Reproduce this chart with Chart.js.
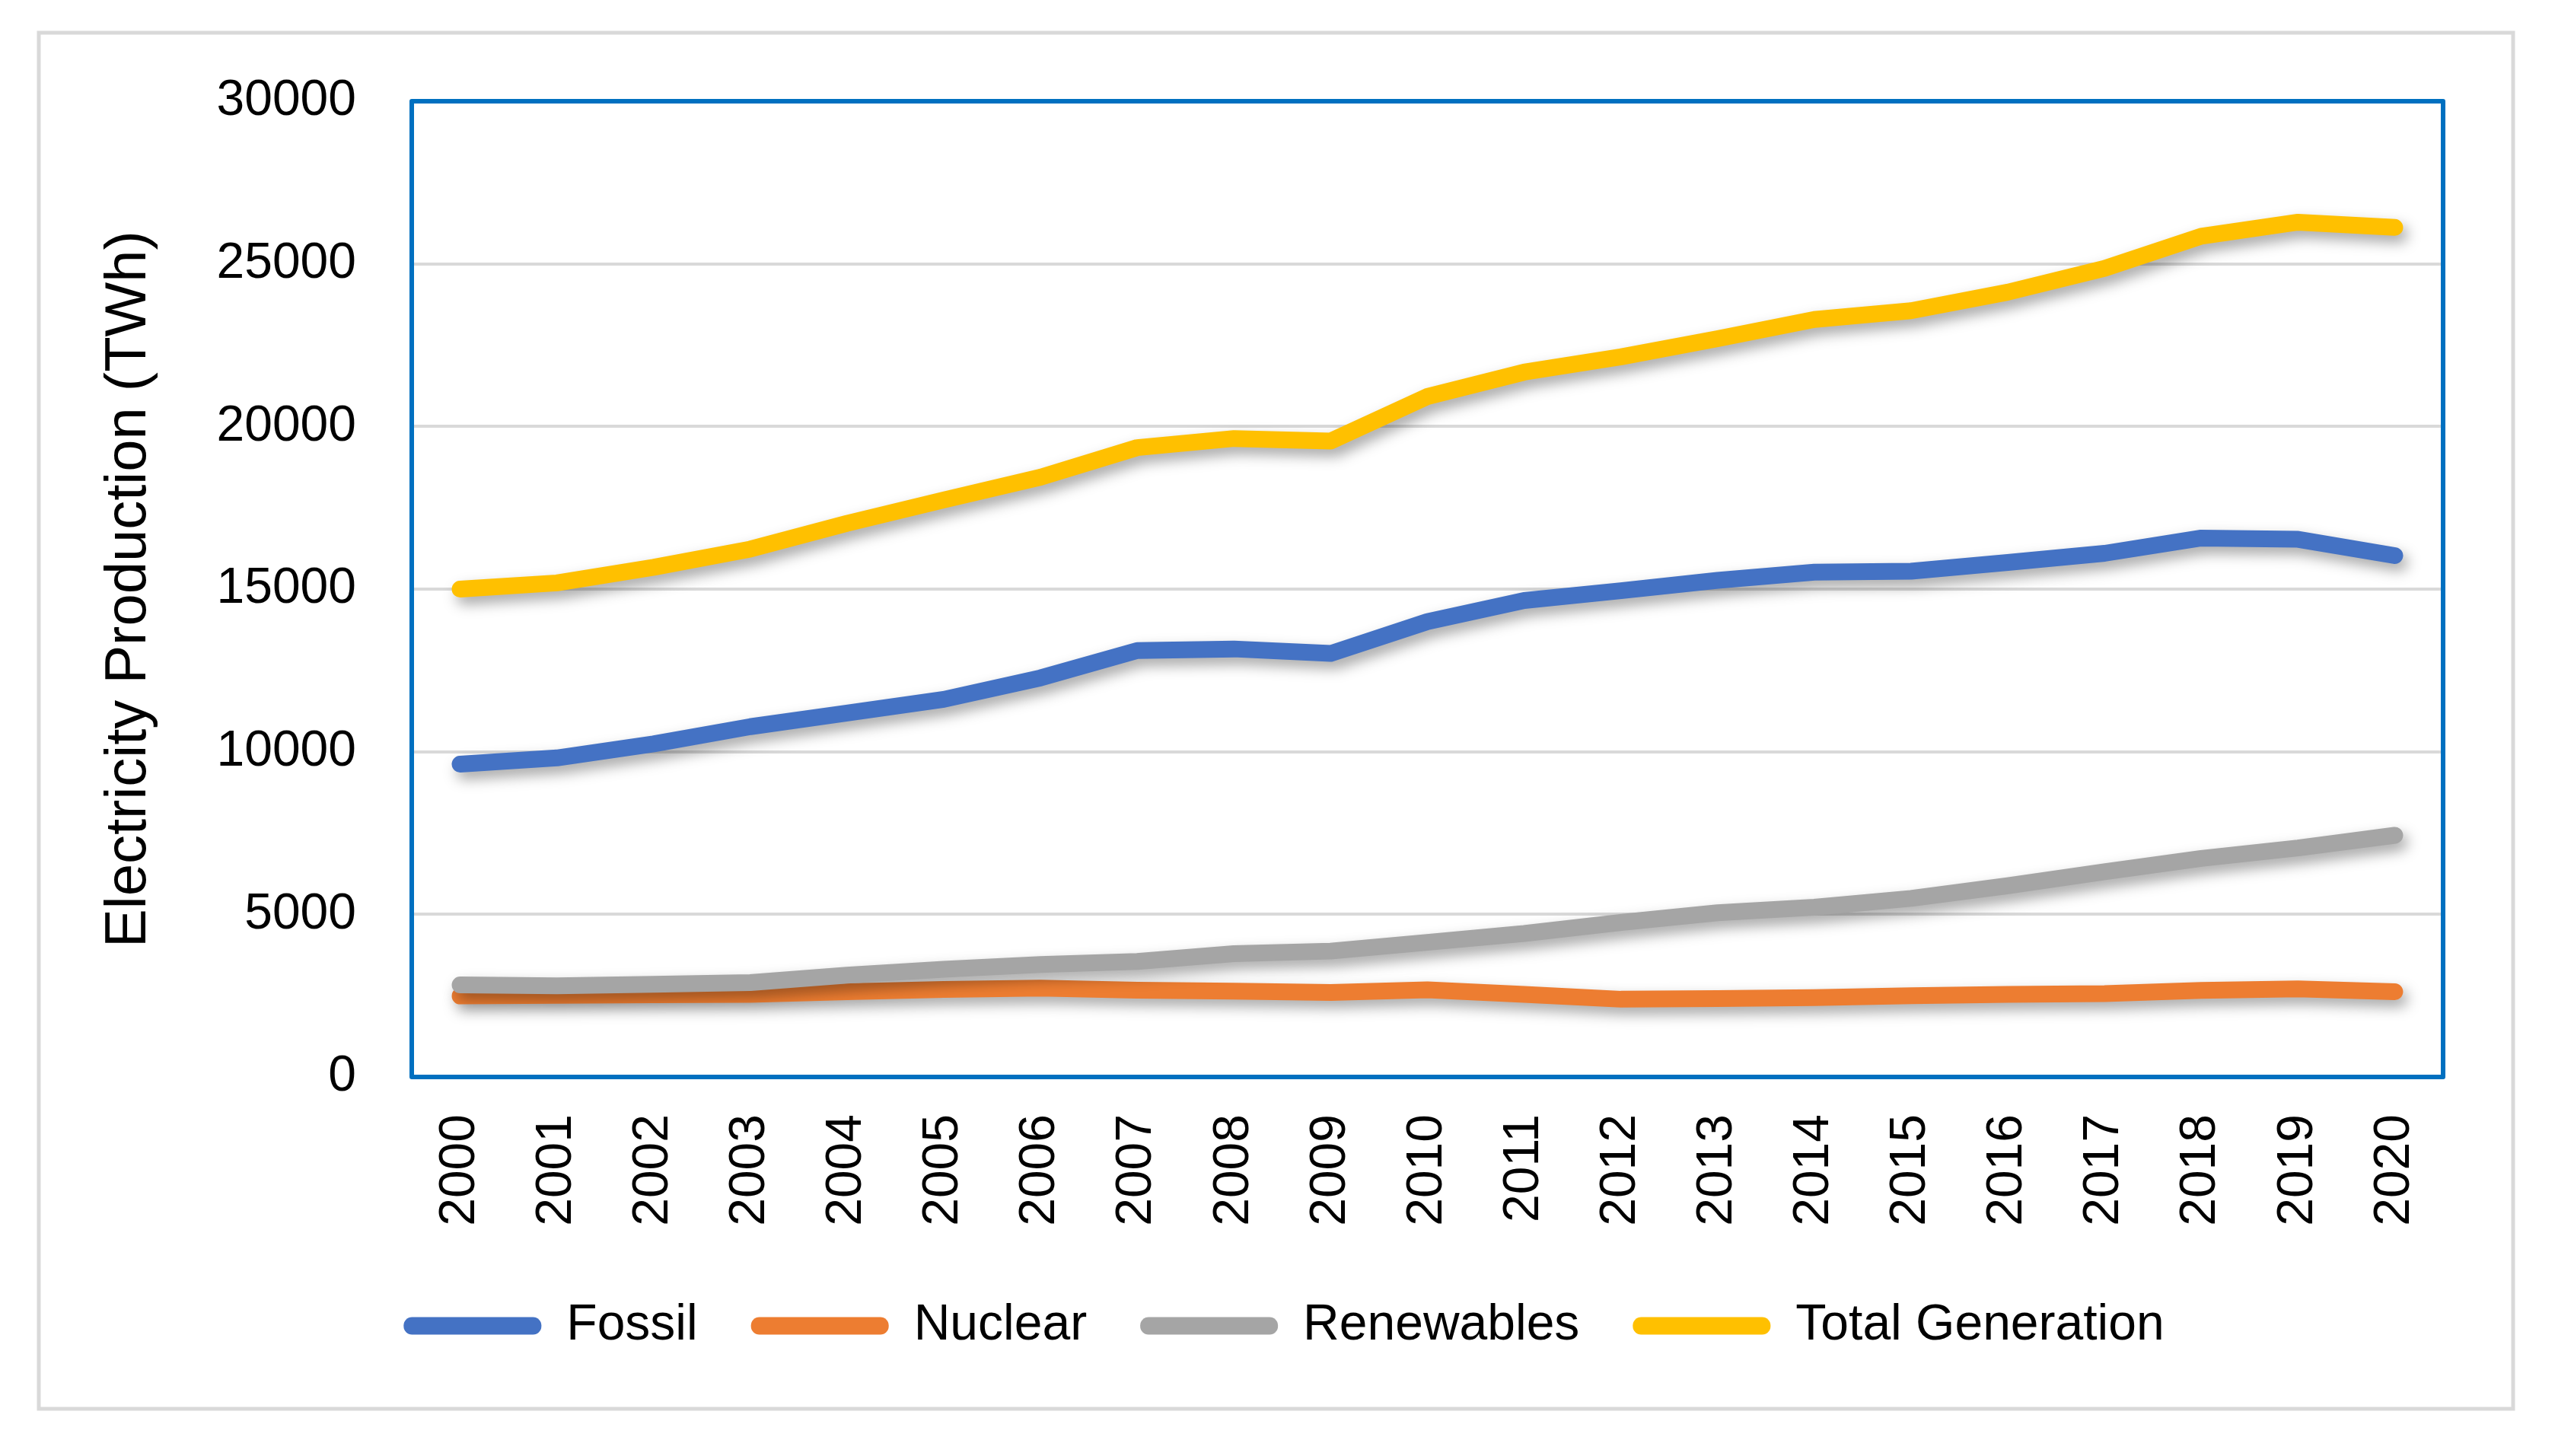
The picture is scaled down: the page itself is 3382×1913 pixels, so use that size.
<!DOCTYPE html>
<html>
<head>
<meta charset="utf-8">
<script src="https://cdn.jsdelivr.net/npm/chart.js@4.4.1/dist/chart.umd.min.js"></script>
<style>
    html, body { margin: 0; padding: 0; background: #fff; }
    #wrap { position: relative; width: 3382px; height: 1913px; }
</style>
</head>
<body>
<div id="wrap"><canvas id="myChart"></canvas></div>
<script>
var years = ["2000", "2001", "2002", "2003", "2004", "2005", "2006", "2007", "2008", "2009", "2010",
             "2011", "2012", "2013", "2014", "2015", "2016", "2017", "2018", "2019", "2020"];

var fossil = [9620, 9810, 10240, 10770, 11190, 11610, 12270, 13110, 13160, 13020, 14000,
              14650, 14950, 15270, 15520, 15550, 15820, 16100, 16570, 16530, 16030];
var nuclear = [2490, 2510, 2530, 2540, 2620, 2690, 2730, 2670, 2640, 2600, 2680,
               2540, 2390, 2410, 2440, 2500, 2540, 2560, 2660, 2710, 2620];
var renewables = [2830, 2800, 2850, 2900, 3130, 3310, 3460, 3550, 3790, 3870, 4140,
                  4410, 4750, 5050, 5220, 5490, 5880, 6310, 6720, 7040, 7430];
var totalGen = [15000, 15190, 15670, 16230, 17020, 17740, 18440, 19350, 19630, 19550, 20920,
                21670, 22140, 22700, 23290, 23560, 24130, 24860, 25850, 26280, 26120];

var yTicks = [0, 5000, 10000, 15000, 20000, 25000, 30000];

var fontName = "'Liberation Sans', Arial, sans-serif";

function series(label, data, color, order) {
    return {
        label: label,
        data: data,
        borderColor: color,
        backgroundColor: color,
        borderWidth: 22,
        borderCapStyle: 'round',
        borderJoinStyle: 'round',
        tension: 0,
        pointRadius: 0,
        pointHoverRadius: 0,
        fill: false,
        order: order
    };
}

// outer frame + blue plot border
var framePlugin = {
    id: 'frame',
    beforeDraw: function(chart) {
        var ctx = chart.ctx;
        ctx.save();
        ctx.fillStyle = '#ffffff';
        ctx.fillRect(0, 0, chart.width, chart.height);
        ctx.strokeStyle = '#d9d9d9';
        ctx.lineWidth = 5;
        ctx.strokeRect(51, 43, 3251, 1808);
        ctx.restore();
    },
    beforeDatasetsDraw: function(chart) {
        var a = chart.chartArea;
        var ctx = chart.ctx;
        ctx.save();
        ctx.strokeStyle = '#0070c0';
        ctx.lineWidth = 6;
        ctx.lineJoin = 'round';
        ctx.strokeRect(a.left, a.top, a.right - a.left, a.bottom - a.top);
        ctx.restore();
    }
};

// soft drop shadow under each line
var shadowPlugin = {
    id: 'lineShadow',
    beforeDatasetDraw: function(chart) {
        var ctx = chart.ctx;
        ctx.save();
        ctx.shadowColor = 'rgba(0, 0, 0, 0.35)';
        ctx.shadowBlur = 18;
        ctx.shadowOffsetX = 6;
        ctx.shadowOffsetY = 9;
    },
    afterDatasetDraw: function(chart) {
        chart.ctx.restore();
    }
};

var chartCtx = document.getElementById('myChart');
var myChart = new Chart(chartCtx, {
    type: 'line',
    data: {
        labels: years,
        datasets: [
            series('Fossil', fossil, '#4472c4', 4),
            series('Nuclear', nuclear, '#ed7d31', 3),
            series('Renewables', renewables, '#a5a5a5', 2),
            series('Total Generation', totalGen, '#ffc000', 1)
        ]
    },
    options: {
        responsive: true,
        maintainAspectRatio: false,
        devicePixelRatio: 1,
        animation: false,
        events: [],
        layout: {
            padding: { left: 164, right: 172, top: 133, bottom: 128 }
        },
        scales: {
            x: {
                offset: true,
                grid: { display: false, drawTicks: false },
                border: { display: false },
                ticks: {
                    autoSkip: false,
                    minRotation: 90,
                    maxRotation: 90,
                    padding: 49,
                    color: '#000',
                    font: { family: fontName, size: 66 }
                },
                afterFit: function(scale) {
                    scale.height = 224;
                }
            },
            y: {
                min: 0,
                max: 30000,
                afterBuildTicks: function(scale) {
                    scale.ticks = yTicks.map(function(v) { return { value: v }; });
                },
                grid: { color: '#d9d9d9', lineWidth: 4, drawTicks: false },
                border: { display: false },
                ticks: {
                    padding: 73,
                    color: '#000',
                    font: { family: fontName, size: 66 },
                    callback: function(v) { return String(v); }
                },
                title: {
                    display: true,
                    text: 'Electricity Production (TWh)',
                    color: '#000',
                    padding: { top: -40, bottom: 0 },
                    font: { family: fontName, size: 76, lineHeight: 1.2 }
                },
                afterFit: function(scale) {
                    scale.width = 377;
                }
            }
        },
        plugins: {
            tooltip: { enabled: false },
            legend: {
                position: 'bottom',
                labels: {
                    boxWidth: 181,
                    boxHeight: 23,
                    padding: 70,
                    color: '#000',
                    font: { family: fontName, size: 66 },
                    generateLabels: function(chart) {
                        return chart.data.datasets.map(function(ds, i) {
                            return {
                                text: ds.label,
                                fillStyle: ds.borderColor,
                                strokeStyle: ds.borderColor,
                                lineWidth: 0,
                                borderRadius: 11,
                                fontColor: '#000',
                                hidden: false,
                                datasetIndex: i
                            };
                        });
                    }
                }
            }
        }
    },
    plugins: [framePlugin, shadowPlugin]
});
</script>
</body>
</html>
